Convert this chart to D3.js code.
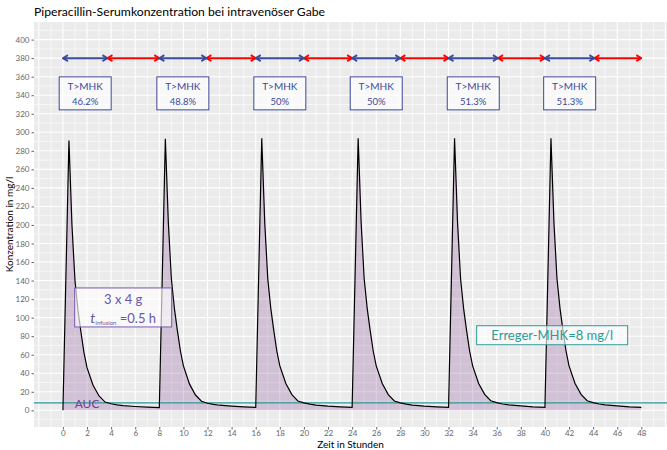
<!DOCTYPE html>
<html>
<head>
<meta charset="utf-8">
<script src="https://cdn.jsdelivr.net/npm/d3@7"></script>
<style>
  body { margin: 0; background: #fff; }
  text { font-family: Lato, "Open Sans", sans-serif; }
</style>
</head>
<body>
<svg width="667" height="450"></svg>
<script>
"use strict";

// dosing every 8 h, 4 g over 0.5 h
const doseStart = [0, 8, 16, 24, 32, 40];
const cycleHours = [0, 0.5, 0.75, 1, 1.25, 1.5, 1.75, 2, 2.5, 3, 3.5, 4, 4.5, 5, 6, 7, 8];
const cycleConc = [
    [0,   291,   200, 140, 108, 84, 62, 46, 27,   15.5, 8.9,  7.1, 5.9, 5.0, 4.1, 3.4, 2.8],
    [2.8, 293,   202, 142, 110, 86, 64, 48, 28.5, 16.5, 9.8,  7.6, 6.4, 5.5, 4.5, 3.7, 3.1],
    [3.1, 293.5, 202, 142, 110, 86, 64, 48, 29,   17,   10.1, 8.0, 6.6, 5.7, 4.6, 3.8, 3.2],
    [3.2, 293.5, 202, 142, 110, 86, 64, 48, 29,   17,   10.1, 8.0, 6.6, 5.7, 4.6, 3.8, 3.2],
    [3.2, 293.5, 202, 142, 110, 86, 64, 48, 29,   17.2, 10.3, 8.3, 6.8, 5.8, 4.7, 3.8, 3.2],
    [3.2, 293.5, 202, 142, 110, 86, 64, 48, 29,   17.2, 10.3, 8.3, 6.8, 5.8, 4.7, 3.8, 3.2]
];
const tmhkPercent = [46.2, 48.8, 50, 50, 51.3, 51.3];
const tmhkLabels = ["46.2%", "48.8%", "50%", "50%", "51.3%", "51.3%"];
const dosingInterval = 8;
const mhk = 8;
const arrowLevel = 380;
const boxLevel = 342;

const xTicks = [0, 2, 4, 6, 8, 10, 12, 14, 16, 18, 20, 22, 24, 26, 28, 30, 32, 34, 36, 38, 40, 42, 44, 46, 48];
const yTicks = [0, 20, 40, 60, 80, 100, 120, 140, 160, 180, 200, 220, 240, 260, 280, 300, 320, 340, 360, 380, 400];

const blue = "#3b4a9a";
const red = "#ff0000";
const teal = "#2a9a98";
const purple = "#7a3d96";

const svg = d3.select("svg");
const panel = {left: 34, right: 667, top: 22, bottom: 427};

const x = d3.scaleLinear().domain([-2.4, 50.13]).range([panel.left, panel.right]);
const y = d3.scaleLinear().domain([-18, 419]).range([panel.bottom, panel.top]);

// panel background + grid
svg.append("rect")
    .attr("x", panel.left).attr("y", panel.top)
    .attr("width", panel.right - panel.left).attr("height", panel.bottom - panel.top)
    .attr("fill", "#ebebeb");

const grid = svg.append("g").attr("stroke", "#fff");
for (let h = -2; h <= 50; h++) {
    grid.append("line")
        .attr("x1", x(h)).attr("x2", x(h))
        .attr("y1", panel.top).attr("y2", panel.bottom)
        .attr("stroke-width", h % 2 === 0 ? 1.1 : 0.6);
}
for (let v = -10; v <= 410; v += 10) {
    grid.append("line")
        .attr("x1", panel.left).attr("x2", panel.right)
        .attr("y1", y(v)).attr("y2", y(v))
        .attr("stroke-width", v % 20 === 0 ? 1.1 : 0.6);
}

// axes
const xAxis = svg.append("g")
    .attr("transform", `translate(0,${panel.bottom})`)
    .call(d3.axisBottom(x).tickValues(xTicks).tickSize(2.5).tickPadding(1));
const yAxis = svg.append("g")
    .attr("transform", `translate(${panel.left},0)`)
    .call(d3.axisLeft(y).tickValues(yTicks).tickSize(2.5).tickPadding(2));
[xAxis, yAxis].forEach(ax => {
    ax.select(".domain").remove();
    ax.selectAll(".tick line").attr("stroke", "#666");
    ax.selectAll(".tick text").attr("fill", "#666").attr("font-size", 8)
        .style("font-family", "Lato, sans-serif");
});

// concentration curve
const points = [];
doseStart.forEach((d, i) => {
    cycleHours.forEach((h, j) => points.push([d + h, cycleConc[i][j]]));
});

svg.append("path")
    .datum(points)
    .attr("fill", "#6a1b7a")
    .attr("fill-opacity", 0.2)
    .attr("d", d3.area().x(d => x(d[0])).y0(y(0)).y1(d => y(d[1])));

svg.append("line")
    .attr("x1", panel.left).attr("x2", panel.right)
    .attr("y1", y(mhk)).attr("y2", y(mhk))
    .attr("stroke", teal).attr("stroke-width", 1.1);

svg.append("path")
    .datum(points)
    .attr("fill", "none")
    .attr("stroke", "#000")
    .attr("stroke-width", 1.2)
    .attr("d", d3.line().x(d => x(d[0])).y(d => y(d[1])));

svg.append("text")
    .attr("x", x(2)).attr("y", y(2))
    .attr("text-anchor", "middle")
    .attr("fill", purple).attr("font-size", 12)
    .text("AUC");

// arrows
const defs = svg.append("defs");
[["blue", blue], ["red", red]].forEach(([id, col]) => {
    defs.append("marker")
        .attr("id", "arr-" + id)
        .attr("markerUnits", "userSpaceOnUse")
        .attr("viewBox", "-6 -4 7 8")
        .attr("refX", 0).attr("refY", 0)
        .attr("markerWidth", 7).attr("markerHeight", 8)
        .attr("orient", "auto-start-reverse")
        .append("path")
        .attr("d", "M-5,-3L0,0L-5,3")
        .attr("fill", "none").attr("stroke", col).attr("stroke-width", 1.8);
});

doseStart.forEach((d, i) => {
    const tEnd = d + tmhkPercent[i] / 100 * dosingInterval;
    svg.append("line")
        .attr("x1", x(tEnd)).attr("x2", x(d + dosingInterval))
        .attr("y1", y(arrowLevel)).attr("y2", y(arrowLevel))
        .attr("stroke", red).attr("stroke-width", 2)
        .attr("marker-start", "url(#arr-red)").attr("marker-end", "url(#arr-red)");
    svg.append("line")
        .attr("x1", x(d)).attr("x2", x(tEnd))
        .attr("y1", y(arrowLevel)).attr("y2", y(arrowLevel))
        .attr("stroke", blue).attr("stroke-width", 2)
        .attr("marker-start", "url(#arr-blue)").attr("marker-end", "url(#arr-blue)");

    const cx = x((d + tEnd) / 2), cy = y(boxLevel);
    svg.append("rect")
        .attr("x", cx - 26).attr("y", cy - 16.5)
        .attr("width", 52).attr("height", 33)
        .attr("fill", "#fff").attr("fill-opacity", 0.65)
        .attr("stroke", blue).attr("stroke-width", 1);
    svg.append("text")
        .attr("x", cx).attr("y", cy - 3)
        .attr("text-anchor", "middle").attr("fill", blue).attr("font-size", 10)
        .text("T>MHK");
    svg.append("text")
        .attr("x", cx).attr("y", cy + 12)
        .attr("text-anchor", "middle").attr("fill", blue).attr("font-size", 9.5)
        .text(tmhkLabels[i]);
});

// dosing label
const doseBox = svg.append("g").attr("transform", `translate(${x(5)},${y(111)})`);
doseBox.append("rect")
    .attr("x", -48.5).attr("y", -19.5).attr("width", 97).attr("height", 39)
    .attr("fill", "#fff").attr("fill-opacity", 0.65)
    .attr("stroke", "#7658b0").attr("stroke-width", 1);
doseBox.append("text")
    .attr("x", 0).attr("y", -3)
    .attr("text-anchor", "middle").attr("fill", "#6a56aa").attr("font-size", 13)
    .text("3 x 4 g");
const t2 = doseBox.append("text")
    .attr("x", 0).attr("y", 16)
    .attr("text-anchor", "middle").attr("fill", "#6a56aa").attr("font-size", 13);
t2.append("tspan").attr("font-style", "italic").attr("font-size", 14).text("t");
t2.append("tspan").attr("font-size", 6).attr("dy", 2).text("Infusion");
t2.append("tspan").attr("dy", -2).text("  =0.5 h");

// MHK label
const mhkBox = svg.append("g").attr("transform", `translate(${x(40.6)},${y(81)})`);
mhkBox.append("rect")
    .attr("x", -75.5).attr("y", -9.5).attr("width", 151).attr("height", 19)
    .attr("fill", "#fff").attr("fill-opacity", 0.65)
    .attr("stroke", teal).attr("stroke-width", 1);
mhkBox.append("text")
    .attr("x", 0).attr("y", 5)
    .attr("text-anchor", "middle").attr("fill", teal).attr("font-size", 13)
    .text("Erreger-MHK=8 mg/l");

// titles
svg.append("text")
    .attr("x", panel.left).attr("y", 16)
    .attr("font-size", 12.2).attr("fill", "#000")
    .text("Piperacillin-Serumkonzentration bei intravenöser Gabe");
svg.append("text")
    .attr("x", (panel.left + panel.right) / 2).attr("y", 448)
    .attr("text-anchor", "middle").attr("font-size", 10)
    .text("Zeit in Stunden");
svg.append("text")
    .attr("transform", `translate(13,${(panel.top + panel.bottom) / 2}) rotate(-90)`)
    .attr("text-anchor", "middle").attr("font-size", 10)
    .text("Konzentration in mg/l");
</script>
</body>
</html>
